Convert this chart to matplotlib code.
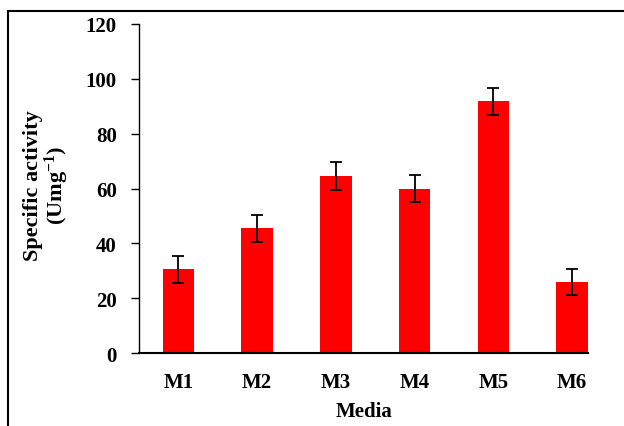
import matplotlib.pyplot as plt
from matplotlib.patches import Rectangle

# data
media = ["M1", "M2", "M3", "M4", "M5", "M6"]
activity = [30.5, 45.5, 64.5, 60.0, 91.8, 25.8]
errors = [5.0, 5.0, 5.0, 5.0, 5.0, 4.7]
y_ticks = [0, 20, 40, 60, 80, 100, 120]

plt.rcParams['font.family'] = ['Liberation Serif', 'DejaVu Serif']
plt.rcParams['font.weight'] = 'bold'
plt.rcParams['mathtext.fontset'] = 'custom'
plt.rcParams['mathtext.rm'] = 'Liberation Serif:bold'
plt.rcParams['mathtext.default'] = 'rm'

fig = plt.figure(figsize=(6.24, 4.27), dpi=100)
ax = fig.add_axes([139 / 624, 1 - 354 / 427, (588 - 139) / 624, (354 - 25) / 427])

x = range(len(media))
ax.bar(x, activity, width=0.4, color='#ff0000', zorder=2)
ax.errorbar(x, activity, yerr=errors, fmt='none', ecolor='black',
            elinewidth=1.3, capsize=4, capthick=1.3, zorder=3)

ax.set_xlim(-0.5, 5.2)
ax.set_ylim(0, 120)
ax.set_yticks(y_ticks)
ax.set_xticks(list(x))
ax.set_xticklabels(media, fontsize=15, fontweight='bold')
ax.tick_params(axis='x', length=0, pad=14)
ax.tick_params(axis='y', direction='out', length=6, width=1, labelsize=15, pad=10)
for lab in ax.get_yticklabels():
    lab.set_fontweight('bold')

ax.spines['top'].set_visible(False)
ax.spines['right'].set_visible(False)
ax.spines['left'].set_linewidth(1)
ax.spines['bottom'].set_linewidth(1.5)

ax.set_xlabel('Media', fontsize=15, fontweight='bold', labelpad=6)
# y label placed in figure coordinates, centred like the reference
fig.text(47 / 624, 1 - 186 / 427, 'Specific activity\n(Umg$^{-1}$)',
         rotation=90, ha='center', va='center', multialignment='center',
         fontsize=16, fontweight='bold', linespacing=1.0)

# frame around the figure (cut off at right and bottom)
fig.patches.append(Rectangle((8 / 624, -0.05), 1.2, 1.05 - 12 / 427,
                             transform=fig.transFigure, fill=False,
                             edgecolor='black', linewidth=1.5))

fig.savefig('out.png', dpi=100)
